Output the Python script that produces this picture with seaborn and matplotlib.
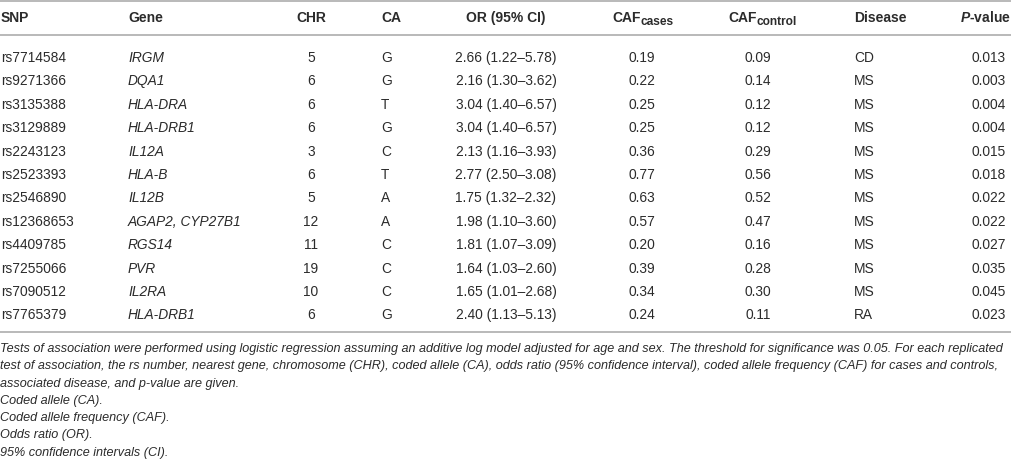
import pandas as pd
import numpy as np
import matplotlib
matplotlib.use("Agg")
import matplotlib.pyplot as plt
import seaborn as sns

# Table values
snp = ['rs7714584', 'rs9271366', 'rs3135388', 'rs3129889', 'rs2243123', 'rs2523393',
       'rs2546890', 'rs12368653', 'rs4409785', 'rs7255066', 'rs7090512', 'rs7765379']
gene = ['IRGM', 'DQA1', 'HLA-DRA', 'HLA-DRB1', 'IL12A', 'HLA-B',
        'IL12B', 'AGAP2, CYP27B1', 'RGS14', 'PVR', 'IL2RA', 'HLA-DRB1']
chrom = [5, 6, 6, 6, 3, 6, 5, 12, 11, 19, 10, 6]
ca = ['G', 'G', 'T', 'G', 'C', 'T', 'A', 'A', 'C', 'C', 'C', 'G']
or_ci = ['2.66 (1.22–5.78)', '2.16 (1.30–3.62)', '3.04 (1.40–6.57)', '3.04 (1.40–6.57)',
         '2.13 (1.16–3.93)', '2.77 (2.50–3.08)', '1.75 (1.32–2.32)', '1.98 (1.10–3.60)',
         '1.81 (1.07–3.09)', '1.64 (1.03–2.60)', '1.65 (1.01–2.68)', '2.40 (1.13–5.13)']
caf_cases = ['0.19', '0.22', '0.25', '0.25', '0.36', '0.77', '0.63', '0.57', '0.20', '0.39', '0.34', '0.24']
caf_control = ['0.09', '0.14', '0.12', '0.12', '0.29', '0.56', '0.52', '0.47', '0.16', '0.28', '0.30', '0.11']
disease = ['CD', 'MS', 'MS', 'MS', 'MS', 'MS', 'MS', 'MS', 'MS', 'MS', 'MS', 'RA']
pval = ['0.013', '0.003', '0.004', '0.004', '0.015', '0.018', '0.022', '0.022', '0.027', '0.035', '0.045', '0.023']

headers = ['SNP', 'Gene', 'CHR', 'CA', 'OR (95% CI)', 'CAF', 'CAF', 'Disease', r'$\mathbfit{P}$-value']
subs = {5: 'cases', 6: 'control'}

notes = [
    "Tests of association were performed using logistic regression assuming an additive log model adjusted for age and sex. The threshold for significance was 0.05. For each replicated",
    "test of association, the rs number, nearest gene, chromosome (CHR), coded allele (CA), odds ratio (95% confidence interval), coded allele frequency (CAF) for cases and controls,",
    "associated disease, and p-value are given.",
    "Coded allele (CA).",
    "Coded allele frequency (CAF).",
    "Odds ratio (OR).",
    "95% confidence intervals (CI).",
]

df = pd.DataFrame({'SNP': snp, 'Gene': gene, 'CHR': chrom, 'CA': ca, 'OR': or_ci,
                   'CAF_cases': caf_cases, 'CAF_control': caf_control,
                   'Disease': disease, 'P': pval})

sns.set_theme(style="white")
plt.rcParams['font.family'] = ['Liberation Sans', 'DejaVu Sans']
plt.rcParams['mathtext.fontset'] = 'custom'
plt.rcParams['mathtext.rm'] = 'Liberation Sans'
plt.rcParams['mathtext.bf'] = 'Liberation Sans:bold'
plt.rcParams['mathtext.it'] = 'Liberation Sans:italic'
plt.rcParams['mathtext.bfit'] = 'Liberation Sans:bold:italic'

fig = plt.figure(figsize=(10.12, 4.64), dpi=100)
ax = fig.add_axes([0, 0, 1, 1])
ax.set_xlim(0, 1012)
ax.set_ylim(464, 0)
ax.axis('off')

txt = '#2b2b2b'
fs = 9.9
hfs = 10.0

# column positions (x, alignment)
cols = [('SNP', 1, 'left'), ('Gene', 128, 'left'), ('CHR', 311, 'center'),
        ('CA', 381, 'left'), ('OR', 506, 'center'), ('CAF_cases', 642, 'center'),
        ('CAF_control', 758, 'center'), ('Disease', 854, 'left'), ('P', 989, 'center')]
header_x = {5: 612, 6: 728, 8: 960}

header_y = 18
renderer = fig.canvas.get_renderer()
for k, ((key, x, ha), h) in enumerate(zip(cols, headers)):
    if k in header_x:
        t = ax.text(header_x[k], header_y, h, ha='left', va='center', fontsize=hfs,
                    fontweight='bold', color=txt)
    else:
        t = ax.text(x, header_y, h, ha=ha, va='center', fontsize=hfs,
                    fontweight='bold', color=txt)
    if k in subs:
        bb = t.get_window_extent(renderer)
        x_end = ax.transData.inverted().transform((bb.x1, bb.y0))[0]
        ax.text(x_end + 0.5, header_y + 4, subs[k], ha='left', va='center',
                fontsize=hfs * 0.86, fontweight='bold', color=txt)

row_y0, row_dy = 58, 23.4
for i, row in df.iterrows():
    y = row_y0 + i * row_dy
    for key, x, ha in cols:
        style = 'italic' if key == 'Gene' else 'normal'
        ax.text(x, y, str(row[key]), ha=ha, va='center', fontsize=fs,
                fontstyle=style, color=txt)

line_kw = dict(color='#b3b3b3', linewidth=1.3)
for ly in [1.5, 36, 333]:
    ax.plot([0, 1012], [ly, ly], **line_kw)

note_y0, note_dy = 349, 17.3
for j, n in enumerate(notes):
    ax.text(0, note_y0 + j * note_dy, n, ha='left', va='center', fontsize=9.1,
            fontstyle='italic', color=txt)

fig.savefig('out.png', dpi=100, facecolor='white')
